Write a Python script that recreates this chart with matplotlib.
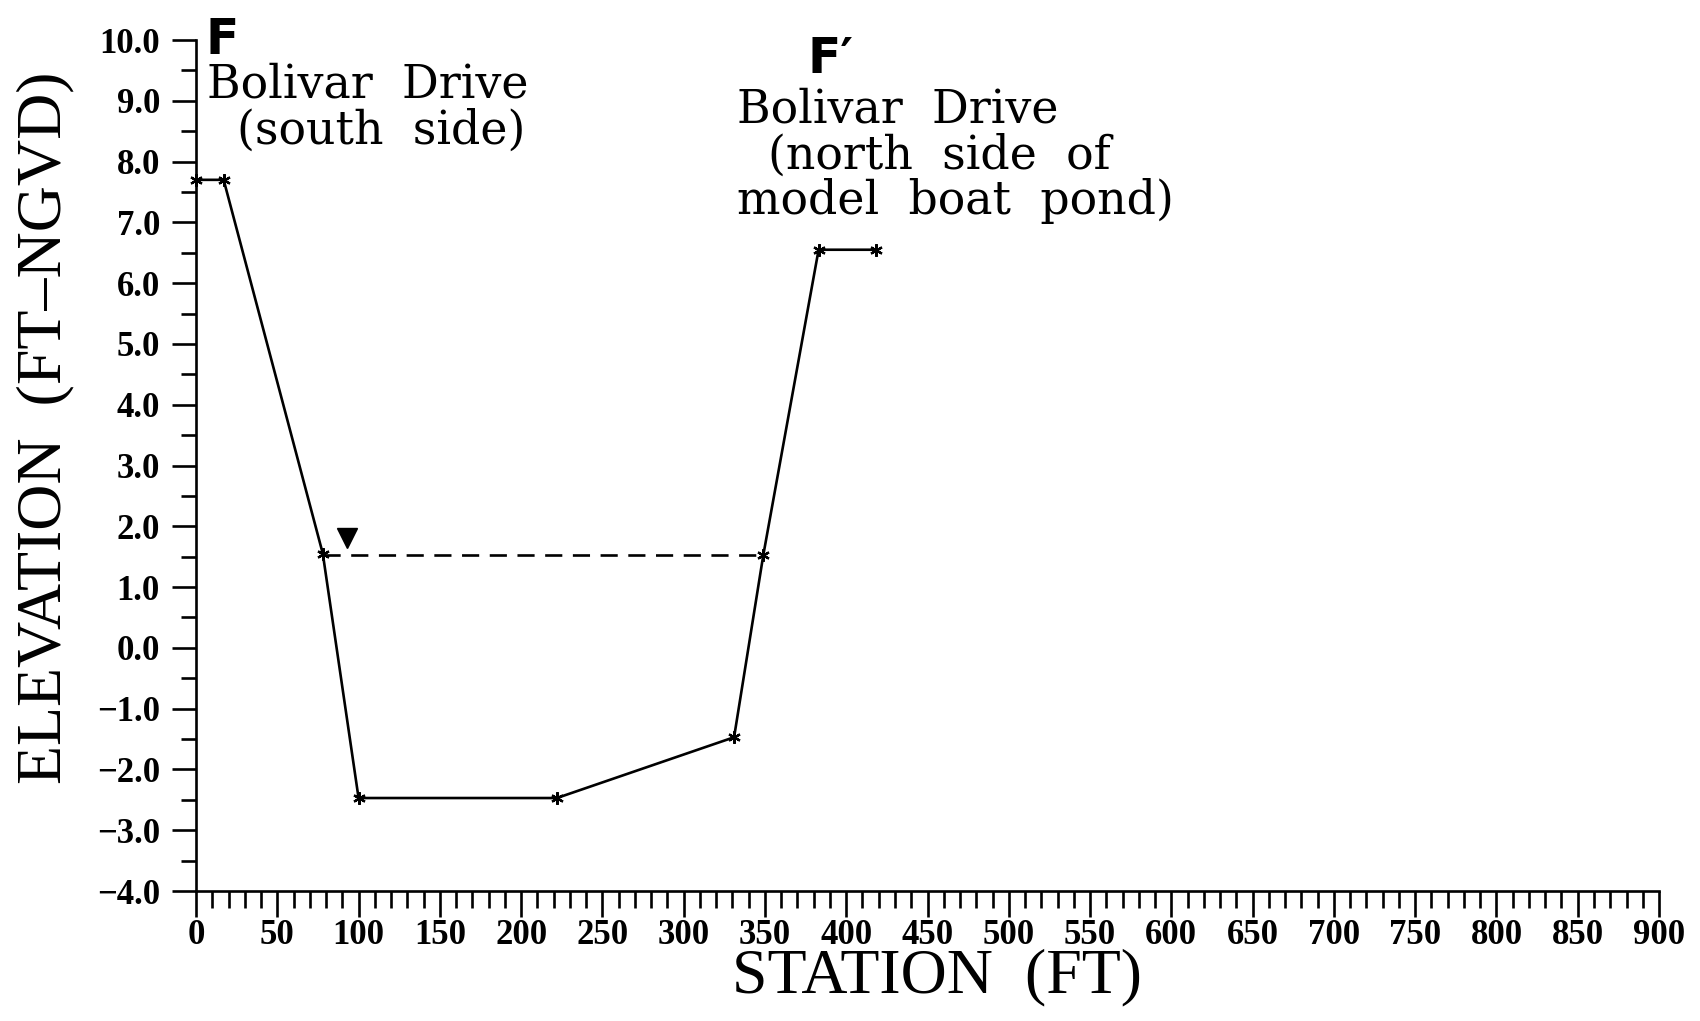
import numpy as np
import matplotlib.pyplot as plt
from matplotlib.ticker import MultipleLocator, FuncFormatter

# 断面数据 (station, elevation)
station = [0, 17, 78, 100, 222, 331, 349, 383, 418]
elev = [7.7, 7.7, 1.55, -2.47, -2.47, -1.47, 1.53, 6.55, 6.55]

# 水面线
water_x = [78, 349]
water_y = [1.53, 1.53]
water_mark_x = [93]
water_mark_y = [1.80]

fig = plt.figure(figsize=(17, 10.21), dpi=100)
ax = fig.add_axes([0.1153, 0.1273, 0.8606, 0.8335])

# 断面线 + 星号标记
ax.plot(station, elev, color='black', lw=1.9, marker=(6, 2, 0), ms=9, mew=1.6, clip_on=False)
ax.plot(water_x, water_y, color='black', lw=1.9, ls=(0, (6.5, 4)))
ax.plot(water_mark_x, water_mark_y, marker='v', color='black', ms=15, ls='none')

# 坐标轴
ax.set_xlim(0, 900)
ax.set_ylim(-4, 10)
ax.spines['top'].set_visible(False)
ax.spines['right'].set_visible(False)
for s in ['left', 'bottom']:
    ax.spines[s].set_linewidth(1.9)

ax.xaxis.set_major_locator(MultipleLocator(50))
ax.xaxis.set_minor_locator(MultipleLocator(10))
ax.yaxis.set_major_locator(MultipleLocator(1))
ax.yaxis.set_minor_locator(MultipleLocator(0.5))
ax.yaxis.set_major_formatter(FuncFormatter(lambda v, p: f"{v:.1f}".replace('-', '\u2212')))

ax.tick_params(axis='x', which='major', direction='out', length=19, width=1.9, pad=1)
ax.tick_params(axis='x', which='minor', direction='out', length=12, width=1.9)
ax.tick_params(axis='y', which='major', direction='out', length=17, width=1.9, pad=9)
ax.tick_params(axis='y', which='minor', direction='out', length=11, width=1.9)

for lab in ax.get_xticklabels() + ax.get_yticklabels():
    lab.set_fontfamily('Liberation Serif')
    lab.set_fontweight('bold')
    lab.set_fontsize(25)

ax.set_xlabel("STATION  (FT)", fontfamily='Liberation Serif', fontsize=46)
ax.set_ylabel("ELEVATION  (FT\u2013NGVD)", fontfamily='Liberation Serif', fontsize=46)
ax.xaxis.set_label_coords(0.5065, -0.068)
ax.yaxis.set_label_coords(-0.083, 0.544)

# 标注
ax.text(6, 9.77, "F", fontfamily='DejaVu Sans', fontweight='heavy', fontsize=35,
        va='baseline', ha='left', clip_on=False)
ax.text(7, 9.05, "Bolivar  Drive", fontfamily='DejaVu Serif', fontsize=33, va='baseline', ha='left')
ax.text(25, 8.30, "(south  side)", fontfamily='DejaVu Serif', fontsize=33, va='baseline', ha='left')

ax.text(376, 9.45, "F\u2032", fontfamily='DejaVu Sans', fontweight='heavy', fontsize=35,
        va='baseline', ha='left')
ax.text(333, 8.64, "Bolivar  Drive", fontfamily='DejaVu Serif', fontsize=33, va='baseline', ha='left')
ax.text(352, 7.89, "(north  side  of", fontfamily='DejaVu Serif', fontsize=33, va='baseline', ha='left')
ax.text(333, 7.14, "model  boat  pond)", fontfamily='DejaVu Serif', fontsize=33, va='baseline', ha='left')

plt.savefig("out.png", dpi=100)
